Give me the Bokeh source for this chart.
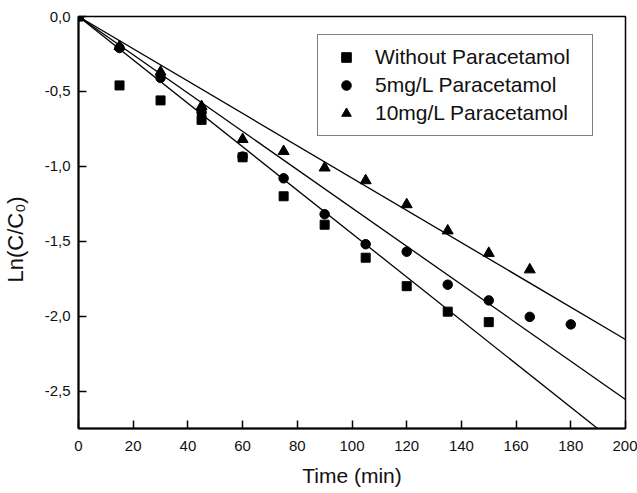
from bokeh.plotting import figure
from bokeh.models import Range1d, SingleIntervalTicker, CustomJSTickFormatter, Legend, LegendItem, Title
from bokeh.embed import file_html
from bokeh.resources import INLINE

# ---- data ----
t_without = [0, 15, 30, 45, 60, 75, 90, 105, 120, 135, 150]
ln_without = [0, -0.46, -0.56, -0.69, -0.94, -1.20, -1.39, -1.61, -1.80, -1.97, -2.04]

t_5mg = [0, 15, 30, 45, 60, 75, 90, 105, 120, 135, 150, 165, 180]
ln_5mg = [0, -0.21, -0.41, -0.64, -0.935, -1.08, -1.32, -1.52, -1.57, -1.79, -1.895, -2.005, -2.055]

t_10mg = [0, 15, 30, 45, 60, 75, 90, 105, 120, 135, 150, 165]
ln_10mg = [0, -0.20, -0.37, -0.60, -0.82, -0.90, -1.01, -1.095, -1.255, -1.43, -1.58, -1.69]

# slopes of the fitted lines through the origin (ln(C/C0) per min)
slope_without = -0.01449
slope_5mg = -0.01278
slope_10mg = -0.01078
fit_t = [0, 200]

labels = ["Without Paracetamol", "5mg/L Paracetamol", "10mg/L Paracetamol"]
x_title = "Time (min)"
y_title = "Ln(C/C\u2080)"

FONT = "Liberation Sans"
NAN = float("nan")

p = figure(width=637, height=493, output_backend="svg", toolbar_location=None,
           x_range=Range1d(0, 200), y_range=Range1d(-2.75, 0),
           min_border_left=78, min_border_right=12, min_border_top=16, min_border_bottom=65)

p.background_fill_color = "white"
p.border_fill_color = "white"
p.outline_line_color = "black"
p.outline_line_width = 1.5
p.grid.visible = False

# fit lines
for s in (slope_without, slope_5mg, slope_10mg):
    p.line(fit_t, [s * t for t in fit_t], line_color="black", line_width=1.3)

# data markers
p.scatter(t_without, ln_without, marker="square", size=9, color="black")
p.scatter(t_5mg, ln_5mg, marker="circle", size=9.5, color="black")
p.scatter(t_10mg, ln_10mg, marker="triangle", size=11, color="black")

# legend-only glyphs (slightly smaller as in the reference)
lg_sq = p.scatter([NAN], [NAN], marker="square", size=8, color="black")
lg_ci = p.scatter([NAN], [NAN], marker="circle", size=8, color="black")
lg_tr = p.scatter([NAN], [NAN], marker="triangle", size=9, color="black")

legend = Legend(items=[LegendItem(label=labels[0], renderers=[lg_sq]),
                       LegendItem(label=labels[1], renderers=[lg_ci]),
                       LegendItem(label=labels[2], renderers=[lg_tr])],
                location=(239, 292))
legend.label_text_font = FONT
legend.label_text_font_size = "21px"
legend.label_text_color = "#111111"
legend.border_line_color = "black"
legend.border_line_width = 1
legend.background_fill_alpha = 1
legend.padding = 10
legend.glyph_width = 36
legend.glyph_height = 24
legend.label_height = 24
legend.label_standoff = 11
legend.label_width = 207
legend.spacing = 4
legend.margin = 0
p.add_layout(legend, "center")

# axes
p.xaxis.ticker = SingleIntervalTicker(interval=20)
p.yaxis.ticker = SingleIntervalTicker(interval=0.5)
p.yaxis.formatter = CustomJSTickFormatter(code="return tick.toFixed(1).replace('.', ',');")

for ax in (p.xaxis[0], p.yaxis[0]):
    ax.axis_line_color = "black"
    ax.axis_line_width = 2
    ax.major_tick_in = 8
    ax.major_tick_out = 0
    ax.major_tick_line_width = 1.5
    ax.minor_tick_in = 0
    ax.minor_tick_out = 0
    ax.major_label_text_font = FONT
    ax.major_label_text_font_size = "15px"
    ax.major_label_text_color = "#111111"
    ax.axis_label_text_font = FONT
    ax.axis_label_text_font_size = "21px"
    ax.axis_label_text_font_style = "normal"
    ax.axis_label_text_color = "#111111"

p.xaxis.axis_label = x_title
p.xaxis.major_label_standoff = 12
p.yaxis.major_label_standoff = 8
p.xaxis.axis_label_standoff = 10
# blank spacer label: widens the y-axis panel a little so the side title sits further left
p.yaxis.axis_label = " "
p.yaxis.axis_label_text_font_size = "1px"
p.yaxis.axis_label_standoff = 6

# y-axis title as a side title, shifted a little below the frame centre as in the reference
ytitle = Title(text=y_title, align="left", offset=146, vertical_align="top", standoff=4,
               text_font=FONT, text_font_size="22px", text_font_style="normal",
               text_color="#111111")
p.add_layout(ytitle, "left")

open("out.html", "w").write(file_html(p, INLINE))
